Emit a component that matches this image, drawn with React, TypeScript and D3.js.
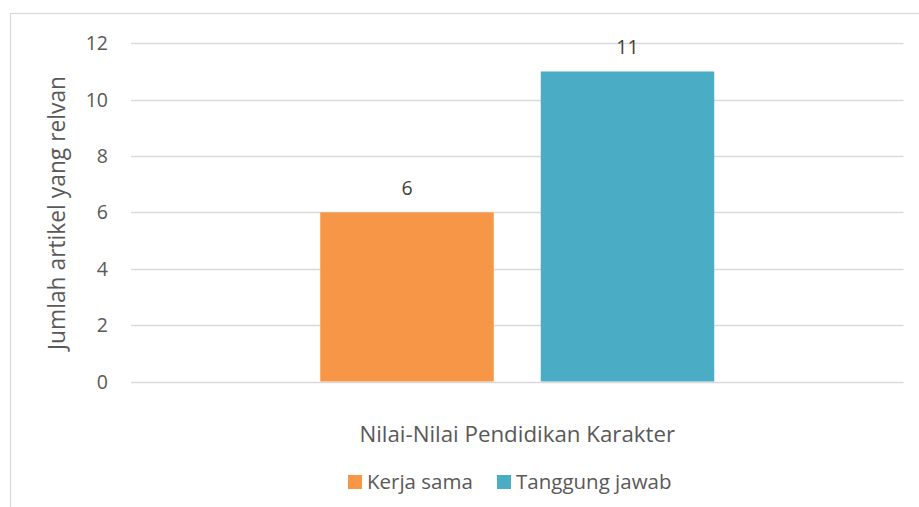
import React from "react";
import * as d3 from "d3";

const categories = ["Nilai-Nilai Pendidikan Karakter"];
const seriesNames = ["Kerja sama", "Tanggung jawab"];
const seriesValues = [6, 11];
const seriesColors = ["#F79646", "#4BACC6"];
const yTicks = [0, 2, 4, 6, 8, 10, 12];
const yTitle = "Jumlah artikel yang relvan";

export default function App() {
  const W = 919, H = 507;
  const left = 131, right = 903.5, top = 43.3, bottom = 381.5;
  const font = "'Open Sans', 'Noto Sans', sans-serif";
  const y = d3.scaleLinear().domain([0, 12]).range([bottom, top]);
  const x0 = d3.scaleBand().domain(categories).range([left, right]).paddingInner(0).paddingOuter(0);
  const catW = x0.bandwidth();
  const half = 197;
  const gap = 47;
  const step = (2 * half + gap) / 2;
  const x1 = d3.scaleBand().domain(seriesNames).range([catW / 2 - half, catW / 2 + half]).paddingInner(gap / step).paddingOuter(0);
  const cat = categories[0];
  return (
    <svg width={W} height={H} style={{ position: "absolute", left: 0, top: 0 }}>
      <rect x={0} y={0} width={W} height={H} fill="#fff" />
      <rect x={10.5} y={13.5} width={W + 20} height={H + 20} fill="#fff" stroke="#D9D9D9" strokeWidth={1.2} />
      {yTicks.map((t) => (
        <g key={t}>
          <line x1={left} x2={right} y1={Math.round(y(t)) + 0.5} y2={Math.round(y(t)) + 0.5} stroke="#D9D9D9" strokeWidth={1.3} />
          <text x={108} y={y(t)} dy="0.36em" textAnchor="end" fontFamily={font} fontSize={19.5} fill="#595959">{t}</text>
        </g>
      ))}
      {seriesNames.map((s, i) => {
        const bx = (x0(cat) as number) + (x1(s) as number);
        const bw = x1.bandwidth();
        return (
          <g key={s}>
            <rect x={bx} y={y(seriesValues[i])} width={bw} height={y(0) - y(seriesValues[i])} fill={seriesColors[i]} />
            <text x={bx + bw / 2} y={y(seriesValues[i]) - 24.5} dy="0.36em" textAnchor="middle" fontFamily={font} fontSize={19.5} fill="#404040">{seriesValues[i]}</text>
          </g>
        );
      })}
      <text x={(x0(cat) as number) + catW / 2} y={434} dy="0.36em" textAnchor="middle" fontFamily={font} fontSize={22.3} fill="#595959">{cat}</text>
      <text transform={`translate(65, 213) rotate(-90)`} textAnchor="middle" fontFamily={font} fontSize={22.8} fill="#595959">{yTitle}</text>
      {(() => {
        const items = [{ sx: 348, tx: 367 }, { sx: 497, tx: 516 }];
        return seriesNames.map((s, i) => (
          <g key={s}>
            <rect x={items[i].sx} y={475} width={14} height={14} fill={seriesColors[i]} />
            <text x={items[i].tx} y={482} dy="0.36em" fontFamily={font} fontSize={20.5} fill="#595959">{s}</text>
          </g>
        ));
      })()}
    </svg>
  );
}
